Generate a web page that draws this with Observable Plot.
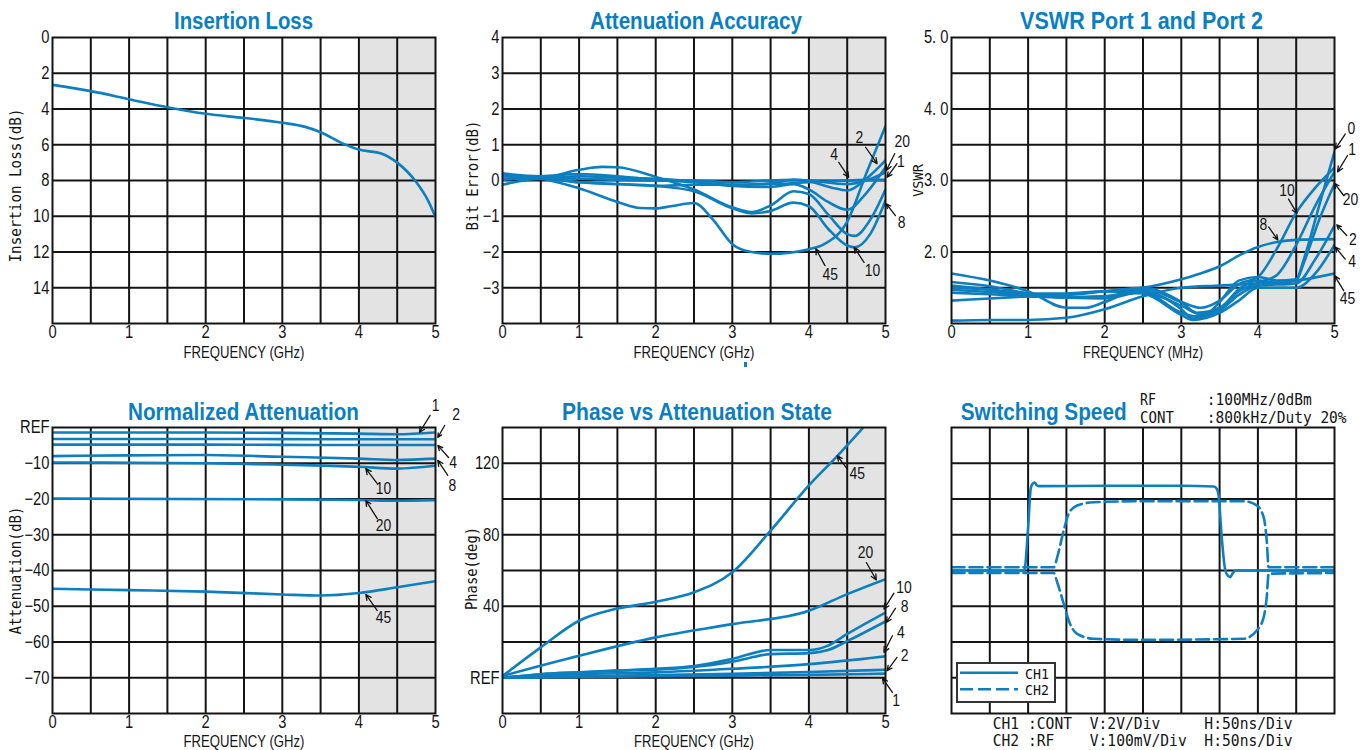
<!DOCTYPE html>
<html><head><meta charset="utf-8">
<script src="https://cdn.jsdelivr.net/npm/d3@7"></script>
<script src="https://cdn.jsdelivr.net/npm/@observablehq/plot@0.6"></script>
<style>
html,body{margin:0;padding:0;background:#fff;}
body{width:1367px;height:750px;position:relative;overflow:hidden;}
.panel{position:absolute;}
.panel svg{overflow:visible;}
#overlay{position:absolute;left:0;top:0;pointer-events:none;}
</style>
</head><body>
<div id="p1" class="panel" style="left:0;top:0"></div>
<div id="p2" class="panel" style="left:455px;top:0"></div>
<div id="p3" class="panel" style="left:910px;top:0"></div>
<div id="p4" class="panel" style="left:0;top:390px"></div>
<div id="p5" class="panel" style="left:455px;top:390px"></div>
<div id="p6" class="panel" style="left:910px;top:390px"></div>
<svg id="overlay" width="1367" height="750"></svg>
<script>
// ---------------- DATA ----------------
const freqTicks = [0, 1, 2, 3, 4, 5];
const freqGrid = [0.5, 1, 1.5, 2, 2.5, 3, 3.5, 4, 4.5];
const band = [[4, 5]];

// Insertion Loss
const ilTicks = [0, 2, 4, 6, 8, 10, 12, 14];
const ilCurve = [[0,2.65],[0.5,3.0],[1,3.45],[1.5,3.9],[2,4.27],[2.5,4.5],[3,4.77],[3.3,5.0],[3.5,5.3],[3.8,5.95],[4,6.27],[4.3,6.5],[4.5,7.0],[4.75,8.1],[4.9,9.1],[5,10.05]];

// Attenuation Accuracy (bit error, dB)
const accTicks = [4, 3, 2, 1, 0, -1, -2, -3];
const accTickLabels = ["4", "3", "2", "1", "0", "\u22121", "\u22122", "\u22123"];
const acc1 = [[0,0.05],[0.5,0.1],[1,0.05],[1.5,0.02],[2,0.0],[2.5,0.0],[3,-0.05],[3.5,0.0],[3.8,0.02],[4,0.0],[4.5,-0.1],[4.75,0.0],[5,0.23]];
const acc2 = [[0,0.2],[0.5,0.12],[1,0.18],[1.5,0.12],[2,0.02],[2.5,-0.05],[3,-0.12],[3.5,-0.08],[3.8,0.02],[4,-0.02],[4.3,-0.2],[4.5,-0.28],[4.75,0.05],[5,0.56]];
const acc4 = [[0,-0.12],[0.5,0.05],[1,-0.05],[1.5,-0.1],[2,-0.15],[2.5,-0.12],[3,-0.12],[3.5,-0.1],[4,-0.05],[4.5,0.0],[4.75,0.02],[5,0.02]];
const acc8 = [[0,0.15],[0.5,0.08],[1,0.3],[1.3,0.38],[1.5,0.37],[2,0.1],[2.5,-0.25],[3,-0.75],[3.25,-0.88],[3.5,-0.7],[3.8,-0.3],[4,-0.38],[4.25,-0.95],[4.5,-1.5],[4.6,-1.55],[4.8,-1.1],[5,-0.25]];
const acc10 = [[0,0.02],[0.5,0.08],[1,-0.05],[1.5,-0.1],[2,-0.15],[2.5,-0.3],[3,-0.78],[3.25,-0.92],[3.5,-0.85],[3.8,-0.62],[4,-0.72],[4.25,-1.35],[4.5,-1.82],[4.6,-1.87],[4.8,-1.5],[5,-0.56]];
const acc20 = [[0,0.15],[0.5,0.08],[1,0.12],[1.5,0.08],[2,0.05],[2.5,-0.02],[3,-0.15],[3.5,-0.18],[3.8,-0.1],[4,-0.25],[4.25,-0.6],[4.5,-0.82],[4.75,-0.35],[5,0.37]];
const acc45 = [[0,0.12],[0.5,0.05],[1,-0.22],[1.5,-0.6],[1.8,-0.77],[2,-0.78],[2.2,-0.72],[2.5,-0.63],[2.75,-1.1],[3,-1.78],[3.25,-2.0],[3.5,-2.05],[4,-1.92],[4.2,-1.78],[4.5,-1.15],[4.75,0.2],[5,1.52]];
const accLabels = [["2",4.66,1.21],["4",4.33,0.73],["20",5.22,1.09],["1",5.20,0.54],["8",5.21,-1.17],["10",4.83,-2.52],["45",4.28,-2.63]];
const accArrows = [[4.74,0.93,4.89,0.47],[4.39,0.51,4.52,0.09],[5.12,0.75,5.01,0.28],[5.15,0.47,5.02,0.09],[5.13,-0.98,5.01,-0.65],[4.72,-2.29,4.59,-1.87],[4.21,-2.38,4.09,-1.91]];

// VSWR
const vsTicks = [2, 3, 4, 5];
const vsTickLabels = ["2. 0", "3. 0", "4. 0", "5. 0"];
const vsGrid = [1.5, 2, 2.5, 3, 3.5, 4, 4.5];
const vs0 = [[0,1.58],[0.5,1.52],[1,1.42],[1.5,1.36],[2,1.38],[2.5,1.47],[2.75,1.38],[3,1.2],[3.15,1.07],[3.3,1.1],[3.5,1.3],[3.75,1.6],[4,1.65],[4.25,1.6],[4.5,1.62],[4.6,1.9],[4.8,2.65],[5,3.4]];
const vs1 = [[0,1.5],[0.5,1.47],[1,1.4],[1.5,1.4],[2,1.45],[2.5,1.5],[3,1.3],[3.2,1.15],[3.5,1.22],[3.75,1.45],[4,1.57],[4.25,1.68],[4.5,2.1],[4.75,2.65],[5,3.12]];
const vs2 = [[0,1.43],[0.5,1.41],[1,1.38],[1.5,1.36],[2,1.35],[2.5,1.44],[3,1.15],[3.2,1.1],[3.5,1.18],[3.75,1.4],[4,1.53],[4.5,1.56],[4.75,1.9],[5,2.37]];
const vs4 = [[0,1.53],[0.5,1.48],[1,1.42],[1.5,1.42],[2,1.45],[2.5,1.42],[3,1.12],[3.15,1.05],[3.5,1.15],[3.75,1.32],[4,1.5],[4.5,1.5],[4.75,1.7],[5,2.1]];
const vs8 = [[0,1.32],[0.5,1.35],[1,1.38],[1.5,1.41],[2,1.45],[2.5,1.5],[3,1.62],[3.25,1.7],[3.5,1.8],[3.75,1.95],[4,2.07],[4.25,2.14],[4.5,2.17],[5,2.18]];
const vs10 = [[0,1.7],[0.5,1.6],[1,1.45],[1.5,1.22],[1.75,1.22],[2,1.3],[2.5,1.5],[3,1.3],[3.25,1.22],[3.5,1.32],[3.75,1.55],[4,1.65],[4.25,2.05],[4.5,2.55],[4.75,2.9],[5,3.18]];
const vs20 = [[0,1.47],[0.5,1.44],[1,1.4],[1.5,1.37],[2,1.38],[2.5,1.43],[3,1.25],[3.25,1.13],[3.5,1.2],[3.75,1.48],[4,1.6],[4.25,1.57],[4.5,1.6],[4.6,1.85],[4.8,2.45],[5,2.95]];
const vs45 = [[0,1.04],[0.5,1.05],[1,1.05],[1.5,1.08],[2,1.2],[2.5,1.38],[3,1.5],[3.5,1.53],[4,1.56],[4.5,1.6],[5,1.7]];
const vsLabels = [["0",5.22,3.72],["1",5.23,3.43],["20",5.21,2.73],["2",5.24,2.18],["4",5.23,1.86],["45",5.17,1.35],["10",4.38,2.86],["8",4.07,2.38]];
const vsArrows = [[5.14,3.65,5.01,3.44],[5.17,3.35,5.04,3.12],[5.12,2.79,5.0,2.96],[5.16,2.23,5.03,2.38],[5.14,1.90,5.01,2.07],[5.12,1.46,5.0,1.67],[4.40,2.74,4.51,2.54],[4.14,2.35,4.26,2.17]];

// Normalized Attenuation
const naTicks = [0, -10, -20, -30, -40, -50, -60, -70];
const naTickLabels = ["REF", "\u221210", "\u221220", "\u221230", "\u221240", "\u221250", "\u221260", "\u221270"];
const na1 = [[0,-1.4],[2,-1.4],[3,-1.5],[4,-1.7],[4.5,-1.9],[5,-1.4]];
const na2 = [[0,-3.2],[2,-3.2],[4,-3.3],[5,-3.3]];
const na4 = [[0,-4.8],[2,-4.8],[4,-4.9],[5,-4.9]];
const na8 = [[0,-8.0],[1,-7.8],[2,-7.7],[3,-8.2],[4,-8.7],[4.5,-9.1],[5,-8.7]];
const na10 = [[0,-9.8],[2,-10.0],[3,-10.4],[4,-11.0],[4.5,-11.5],[5,-10.7]];
const na20 = [[0,-19.9],[3,-20.1],[4,-20.3],[4.5,-20.5],[5,-20.3]];
const na45 = [[0,-45.1],[1,-45.5],[2,-45.9],[3,-46.7],[3.5,-47.0],[4,-46.3],[4.5,-44.7],[5,-43.0]];
const naLabels = [["1",5.0,6.2],["2",5.27,3.6],["4",5.23,-9.8],["8",5.22,-16.2],["10",4.32,-17.1],["20",4.32,-27.4],["45",4.32,-53.1]];
const naArrows = [[4.93,3.4,4.79,-1.4],[5.12,0.56,5.03,-2.8],[5.17,-8.4,5.03,-5.0],[5.16,-13.4,5.03,-9.2],[4.24,-15.7,4.09,-11.5],[4.24,-25.5,4.09,-20.4],[4.24,-51.2,4.09,-46.7]];

// Phase vs Attenuation State
const phTicks = [0, 40, 80, 120];
const phTickLabels = ["REF", "40", "80", "120"];
const phGrid = [0, 20, 40, 60, 80, 100, 120];
const ph1 = [[0,0],[1,0.4],[2,0.8],[3,1.2],[4,1.6],[5,2.3]];
const ph2 = [[0,0],[1,0.8],[2,1.5],[3,2.2],[4,3.2],[5,4.5]];
const ph4 = [[0,0],[1,2],[2,3],[3,5],[4,7.6],[5,12]];
const ph8 = [[0,0],[0.5,2],[1,3],[1.5,4],[2,4.5],[2.5,6],[3,9],[3.5,13.2],[4,13.8],[4.25,15.5],[4.5,20.5],[5,31.5]];
const ph10 = [[0,0],[0.5,2],[1,3],[1.5,4],[2,5],[2.5,6.5],[3,10.5],[3.5,15.5],[4,15.5],[4.25,18],[4.5,24.5],[5,36.5]];
const ph20 = [[0,1],[1,12.3],[2,22.6],[3,30],[4,37.5],[4.5,46.8],[5,55.2]];
const ph45 = [[0,1],[0.5,17],[1,31.9],[1.47,38.4],[2,42.5],[2.5,47.8],[3,59],[3.5,82.3],[4,107.6],[4.37,124],[4.7,139.5]];
const phLabels = [["45",4.63,114],["20",4.74,70.1],["10",5.24,50.4],["8",5.25,39.9],["4",5.20,25.3],["2",5.25,12.3],["1",5.14,-12.9]];
const phArrows = [[4.50,116.8,4.37,124.2],[4.75,64.5,4.88,54.7],[5.11,47.3,4.98,38.4],[5.13,38.8,5.01,30.9],[5.09,23.5,4.98,14.2],[5.15,11.4,5.02,3.9],[5.09,-8.2,4.96,-0.2]];

// Switching Speed (divisions)
const divGridX = [1,2,3,4,5,6,7,8,9];
const divGridY = [-3,-2,-1,0,1,2,3];
const ch1 = [[0,0],[1.9,0],[2.0,1.2],[2.07,2.3],[2.12,2.43],[2.17,2.46],[2.23,2.38],[2.3,2.36],[4,2.37],[6,2.37],[6.85,2.35],[6.93,2.28],[6.98,2.05],[7.05,1.0],[7.15,0.0],[7.22,-0.15],[7.28,-0.18],[7.34,-0.08],[7.42,0.0],[10,0]];
const ch2Upper = [[0,0.09],[2.67,0.09],[2.76,0.37],[2.93,1.12],[3.06,1.59],[3.28,1.82],[3.71,1.91],[5,1.94],[7.63,1.94],[7.97,1.82],[8.15,1.49],[8.23,0.84],[8.28,0.09],[10,0.09]];
const ch2Lower = [[0,-0.07],[2.67,-0.07],[2.76,-0.33],[2.93,-0.93],[3.06,-1.4],[3.28,-1.77],[3.71,-1.91],[5,-1.94],[7.63,-1.91],[7.97,-1.68],[8.15,-1.31],[8.23,-0.75],[8.28,-0.09],[10,-0.07]];

// ---------------- STYLE ----------------
const BLUE = "#0d7fc0";
const TITLE = "#0a7ec2";
const INK = "#141414";
const BANDFILL = "#e3e3e3";
const SANS = "'Liberation Sans',Arial,sans-serif";
const MONO = "'DejaVu Sans Mono','Liberation Mono',monospace";
const CONDENSE = 0.82;

function lookup(ticks, labels) { return d => labels[ticks.indexOf(d)]; }

// horizontally scale a rendered text element around its own anchor point
function condense(el, sx) {
  const b = el.getBBox();
  const anchor = getComputedStyle(el).textAnchor;
  const ax = anchor === "end" ? b.x + b.width : anchor === "middle" ? b.x + b.width / 2 : b.x;
  const t = el.getAttribute("transform") || "";
  el.setAttribute("transform", `${t} translate(${ax},0) scale(${sx},1) translate(${-ax},0)`.trim());
}
function fitWidth(el, target) {
  const w = el.getComputedTextLength();
  if (w > 0) condense(el, target / w);
}

function buildPanel(cfg) {
  const marks = [];
  if (cfg.band) marks.push(Plot.rect(cfg.band, {x1: d => d[0], x2: d => d[1], y1: cfg.yDomain[0], y2: cfg.yDomain[1], fill: BANDFILL}));
  marks.push(Plot.ruleX(cfg.xGrid, {stroke: INK, strokeWidth: 2}));
  marks.push(Plot.ruleY(cfg.yGrid, {stroke: INK, strokeWidth: 2}));
  for (const s of cfg.series) {
    marks.push(Plot.line(s.data, {x: d => d[0], y: d => d[1], stroke: BLUE, strokeWidth: 2.6, curve: s.curve || "monotone-x", strokeDasharray: s.dash, clip: true}));
  }
  marks.push(Plot.frame({stroke: INK, strokeWidth: 2}));
  if (cfg.xTicks) marks.push(Plot.axisX(cfg.xTicks, {tickSize: 0, tickPadding: 2, label: null, tickFormat: d => String(d), fontSize: 18, fill: INK}));
  if (cfg.yTicks) marks.push(Plot.axisY(cfg.yTicks, {tickSize: 0, tickPadding: 3, label: null, tickFormat: cfg.yFormat, fontSize: 18, fill: INK}));
  const fit = {};
  if (cfg.yLabel) {
    fit[cfg.yLabel[0]] = cfg.yLabel[1];
    marks.push(Plot.text([cfg.yLabel[0]], {text: d => d, frameAnchor: "left", textAnchor: "middle", lineAnchor: "middle", rotate: -90, dx: cfg.yLabelDx, dy: cfg.yLabelDy || 0, fontFamily: MONO, fontSize: cfg.yLabelSize || 16, fill: INK}));
  }
  if (cfg.xLabel) {
    fit[cfg.xLabel[0]] = cfg.xLabel[1];
    marks.push(Plot.text([cfg.xLabel[0]], {text: d => d, frameAnchor: "bottom", textAnchor: "middle", lineAnchor: "middle", dy: cfg.xLabelDy, fontSize: 17, fill: INK}));
  }
  if (cfg.arrows) marks.push(Plot.arrow(cfg.arrows, {x1: d => d[0], y1: d => d[1], x2: d => d[2], y2: d => d[3], stroke: INK, strokeWidth: 1.3, headLength: 7, headAngle: 50}));
  if (cfg.labels) marks.push(Plot.text(cfg.labels, {x: d => d[1], y: d => d[2], text: d => d[0], fontSize: 17, fill: INK}));
  const [L, T, W, H] = cfg.box;
  const [fx0, fy0, fx1, fy1] = cfg.frame;
  const chart = Plot.plot({
    width: W, height: H,
    marginLeft: fx0 - L, marginTop: fy0 - T, marginRight: L + W - fx1, marginBottom: T + H - fy1,
    x: {domain: cfg.xDomain, axis: null},
    y: {domain: cfg.yDomain, axis: null},
    style: {fontFamily: SANS, fontSize: "18px", background: "transparent", overflow: "visible", color: INK},
    marks
  });
  document.getElementById(cfg.id).appendChild(chart);
  d3.select(chart).selectAll("text").each(function() {
    const txt = this.textContent;
    if (fit[txt]) fitWidth(this, fit[txt]);
    else condense(this, CONDENSE);
  });
}

const col = [[0, 455, 52, 435], [455, 455, 502, 885], [910, 457, 951, 1334]];
const row0 = [0, 370, 37, 323];
const row1 = [390, 360, 427, 713];
function boxOf(c, r) { return {box: [c[0], r[0], c[1], r[1]], frame: [c[2], r[2], c[3], r[3]]}; }

buildPanel({id: "p1", ...boxOf(col[0], row0), xDomain: [0, 5], yDomain: [16, 0],
  xGrid: freqGrid, yGrid: [2, 4, 6, 8, 10, 12, 14], band,
  xTicks: freqTicks, yTicks: ilTicks, yFormat: d => String(d),
  yLabel: ["Insertion Loss(dB)", 154], yLabelDx: -37, yLabelDy: 5, xLabel: ["FREQUENCY (GHz)", 121], xLabelDy: 29,
  series: [{data: ilCurve}]});

buildPanel({id: "p2", ...boxOf(col[1], row0), xDomain: [0, 5], yDomain: [-4, 4],
  xGrid: freqGrid, yGrid: [-3, -2, -1, 0, 1, 2, 3], band,
  xTicks: freqTicks, yTicks: accTicks, yFormat: lookup(accTicks, accTickLabels),
  yLabel: ["Bit Error(dB)", 110], yLabelDx: -30, yLabelDy: -5, xLabel: ["FREQUENCY (GHz)", 121], xLabelDy: 29,
  series: [acc1, acc2, acc4, acc8, acc10, acc20, acc45].map(data => ({data})),
  labels: accLabels, arrows: accArrows});

buildPanel({id: "p3", ...boxOf(col[2], row0), xDomain: [0, 5], yDomain: [1, 5],
  xGrid: freqGrid, yGrid: vsGrid, band,
  xTicks: freqTicks, yTicks: vsTicks, yFormat: lookup(vsTicks, vsTickLabels),
  yLabel: ["VSWR", 33], yLabelDx: -33, yLabelSize: 13.5, xLabel: ["FREQUENCY (MHz)", 120], xLabelDy: 29,
  series: [vs0, vs1, vs2, vs4, vs8, vs10, vs20, vs45].map(data => ({data})),
  labels: vsLabels, arrows: vsArrows});

buildPanel({id: "p4", ...boxOf(col[0], row1), xDomain: [0, 5], yDomain: [-80, 0],
  xGrid: freqGrid, yGrid: [-70, -60, -50, -40, -30, -20, -10], band,
  xTicks: freqTicks, yTicks: naTicks, yFormat: lookup(naTicks, naTickLabels),
  yLabel: ["Attenuation(dB)", 128], yLabelDx: -37, xLabel: ["FREQUENCY (GHz)", 121], xLabelDy: 28.5,
  series: [na1, na2, na4, na8, na10, na20, na45].map(data => ({data})),
  labels: naLabels, arrows: naArrows});

buildPanel({id: "p5", ...boxOf(col[1], row1), xDomain: [0, 5], yDomain: [-20, 140],
  xGrid: freqGrid, yGrid: phGrid, band,
  xTicks: freqTicks, yTicks: phTicks, yFormat: lookup(phTicks, phTickLabels),
  yLabel: ["Phase(deg)", 83], yLabelDx: -31, yLabelDy: -2, xLabel: ["FREQUENCY (GHz)", 120], xLabelDy: 28.5,
  series: [ph1, ph2, ph4, ph8, ph10, ph20, ph45].map(data => ({data})),
  labels: phLabels, arrows: phArrows});

buildPanel({id: "p6", ...boxOf(col[2], row1), xDomain: [0, 10], yDomain: [-4, 4],
  xGrid: divGridX, yGrid: divGridY,
  series: [{data: ch1, curve: "monotone-x"}, {data: ch2Upper, dash: "13,5"}, {data: ch2Lower, dash: "13,5"}]});

// ---------------- OVERLAY TEXT (titles, notes, legend) ----------------
// [text, x, baseline y, fitted width, anchor]
const titles = [["Insertion Loss", 243.5, 29.3, 139, "middle"], ["Attenuation Accuracy", 696, 29.3, 212, "middle"],
  ["VSWR Port 1 and Port 2", 1141.5, 29.3, 243, "middle"], ["Normalized Attenuation", 243.5, 420, 231, "middle"],
  ["Phase vs Attenuation State", 697, 420, 270, "middle"], ["Switching Speed", 960.7, 420, 166, "start"]];
const notes = [["RF", 1140, 405.5, 16], [":100MHz/0dBm", 1206.7, 405.5, 105], ["CONT", 1140, 423.5, 34], [":800kHz/Duty 20%", 1206.7, 423.5, 140],
  ["CH1 :CONT  V:2V/Div     H:50ns/Div", 992.7, 729.5, 300], ["CH2 :RF    V:100mV/Div  H:50ns/Div", 992.7, 746.5, 300]];
const legendItems = [["CH1", null], ["CH2", "13,5"]];

const ov = d3.select("#overlay");
for (const [t, x, y, w, a] of titles) {
  const el = ov.append("text").attr("x", x).attr("y", y).attr("text-anchor", a)
    .attr("font-family", SANS).attr("font-weight", "bold").attr("font-size", 24.5).attr("fill", TITLE).text(t).node();
  fitWidth(el, w);
}
for (const [t, x, y, w] of notes) {
  const el = ov.append("text").attr("x", x).attr("y", y)
    .attr("font-family", MONO).attr("font-size", 15.5).attr("fill", INK).style("white-space", "pre").text(t).node();
  fitWidth(el, w);
}
// legend box
const lg = ov.append("g");
lg.append("rect").attr("x", 957).attr("y", 663).attr("width", 98).attr("height", 39).attr("fill", "#fff").attr("stroke", "#333").attr("stroke-width", 2);
legendItems.forEach(([t, dash], i) => {
  const y = 672.7 + i * 16.6;
  lg.append("line").attr("x1", 960).attr("x2", 1018).attr("y1", y).attr("y2", y).attr("stroke", BLUE).attr("stroke-width", 2.6).attr("stroke-dasharray", dash);
  const el = lg.append("text").attr("x", 1025).attr("y", y + 6).attr("font-family", MONO).attr("font-size", 14).attr("fill", INK).text(t).node();
  fitWidth(el, 24);
});
// small stray blue tick under the Attenuation Accuracy axis title
ov.append("rect").attr("x", 744).attr("y", 362).attr("width", 3).attr("height", 5).attr("fill", BLUE);
</script>
</body></html>
